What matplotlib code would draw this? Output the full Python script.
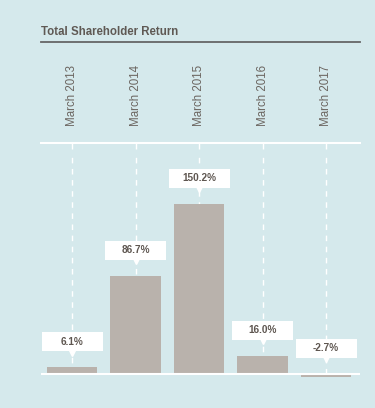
import matplotlib.pyplot as plt
from matplotlib.patches import Rectangle

years = ['March 2013', 'March 2014', 'March 2015', 'March 2016', 'March 2017']
tsr = [6.1, 86.7, 150.2, 16.0, -2.7]
labels = ['6.1%', '86.7%', '150.2%', '16.0%', '-2.7%']

bg = '#d5e9ec'
bar_col = '#b9b2ac'
txt_col = '#6b6560'

plt.rcParams['font.family'] = ['Liberation Sans', 'DejaVu Sans']

fig = plt.figure(figsize=(3.75, 4.08), dpi=100, facecolor=bg)

# title and rule
fig.text(41 / 375, 1 - 35 / 408, 'Total Shareholder Return', fontsize=8.3,
         fontweight='bold', color='#5f5954', ha='left', va='baseline')
fig.add_artist(plt.Line2D([41 / 375, 360 / 375], [1 - 42 / 408, 1 - 42 / 408],
                          color='#666666', lw=1.3))

ax = fig.add_axes([41 / 375, 1 - 400 / 408, 319 / 375, 257 / 408])
ax.set_facecolor(bg)
ax.set_xlim(-0.49, 4.535)
ax.set_ylim(-23, 204)

x = list(range(len(years)))

# dashed guides
ax.vlines(x, 0, 193, colors='white', lw=1, linestyles=(0, (4, 4)), zorder=1)
ax.bar(x, tsr, width=0.8, color=bar_col, zorder=2)
ax.axhline(0, color='white', lw=1.5, zorder=3)

# value boxes
px = 1 / 1.132
for xi, v, lab in zip(x, tsr, labels):
    base = max(v, 0) + 16 * px
    ax.add_patch(Rectangle((xi - 0.48, base), 0.96, 19 * px, facecolor='white',
                           edgecolor='none', zorder=4))
    ax.plot(xi, base - 1.5 * px, marker='v', color='white', markersize=4,
            zorder=4)
    ax.text(xi, base + 9.5 * px, lab, ha='center', va='center', fontsize=7.2,
            fontweight='bold', color='#5e5650', zorder=5)

for s in ['left', 'right', 'bottom']:
    ax.spines[s].set_visible(False)
ax.spines['top'].set_color('white')
ax.spines['top'].set_linewidth(1.5)
ax.set_yticks([])
ax.xaxis.tick_top()
ax.set_xticks(x)
ax.set_xticklabels(years, rotation=90, fontsize=8.3, color=txt_col)
ax.tick_params(axis='x', direction='in', length=4, width=1, color='white',
               pad=12)

fig.savefig('out.png', dpi=100, facecolor=bg)
